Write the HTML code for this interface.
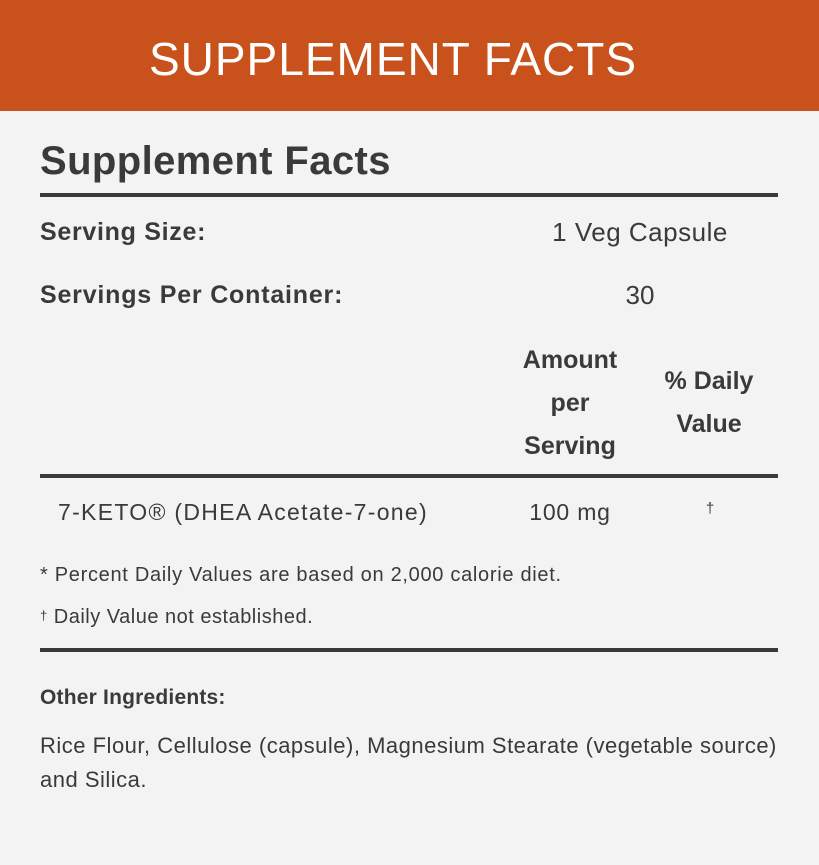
<!DOCTYPE html>
<html><head><meta charset="utf-8"><style>
body{margin:0;width:819px;height:865px;background:#f3f3f3;font-family:"Liberation Sans",sans-serif;color:#3a3a3a;position:relative;overflow:hidden}
.hd{position:absolute;left:0;top:0;width:819px;height:111px;background:#c9511b}
.t{position:absolute;white-space:nowrap}
.r{position:absolute;left:40px;width:738px;height:4px;background:#3a3a3a}
.c{text-align:center}
</style></head><body>
<div class="hd"></div>
<div class="t" style="left:0;width:786px;top:32px;font-size:46px;letter-spacing:1px;color:#fff;text-align:center;line-height:54px">SUPPLEMENT FACTS</div>
<div class="t" style="left:40px;top:139px;font-size:40px;letter-spacing:0.4px;font-weight:bold;line-height:44px">Supplement Facts</div>
<div class="r" style="top:193px"></div>
<div class="t" style="left:40px;top:216px;font-size:25px;font-weight:bold;letter-spacing:0.7px;line-height:32px">Serving Size:</div>
<div class="t c" style="left:500px;width:280px;top:216px;font-size:26px;letter-spacing:0.5px;line-height:32px">1 Veg Capsule</div>
<div class="t" style="left:40px;top:279px;font-size:25px;font-weight:bold;letter-spacing:0.8px;line-height:32px">Servings Per Container:</div>
<div class="t c" style="left:600px;width:80px;top:279px;font-size:26px;line-height:32px">30</div>
<div class="t c" style="left:505px;width:130px;top:339px;font-size:25px;font-weight:bold;line-height:43px">Amount<br>per<br>Serving</div>
<div class="t c" style="left:645px;width:128px;top:360px;font-size:25px;font-weight:bold;line-height:43px">% Daily<br>Value</div>
<div class="r" style="top:474px"></div>
<div class="t" style="left:58px;top:497px;font-size:23px;letter-spacing:1.3px;line-height:30px">7-KETO® (DHEA Acetate-7-one)</div>
<div class="t c" style="left:505px;width:130px;top:497px;font-size:23px;letter-spacing:0.8px;line-height:30px">100 mg</div>
<div class="t c" style="left:690px;width:40px;top:497px;font-size:15px;line-height:24px">†</div>
<div class="t" style="left:40px;top:562px;font-size:20px;letter-spacing:0.7px;line-height:26px">* Percent Daily Values are based on 2,000 calorie diet.</div>
<div class="t" style="left:40px;top:603px;font-size:20px;letter-spacing:0.5px;line-height:26px"><span style="font-size:13px;vertical-align:3px">†</span> Daily Value not established.</div>
<div class="r" style="top:648px"></div>
<div class="t" style="left:40px;top:684px;font-size:21px;letter-spacing:0.2px;font-weight:bold;line-height:28px">Other Ingredients:</div>
<div class="t" style="left:40px;top:729px;font-size:22px;letter-spacing:0.5px;line-height:34px">Rice Flour, Cellulose (capsule), Magnesium Stearate (vegetable source)<br>and Silica.</div>
</body></html>
